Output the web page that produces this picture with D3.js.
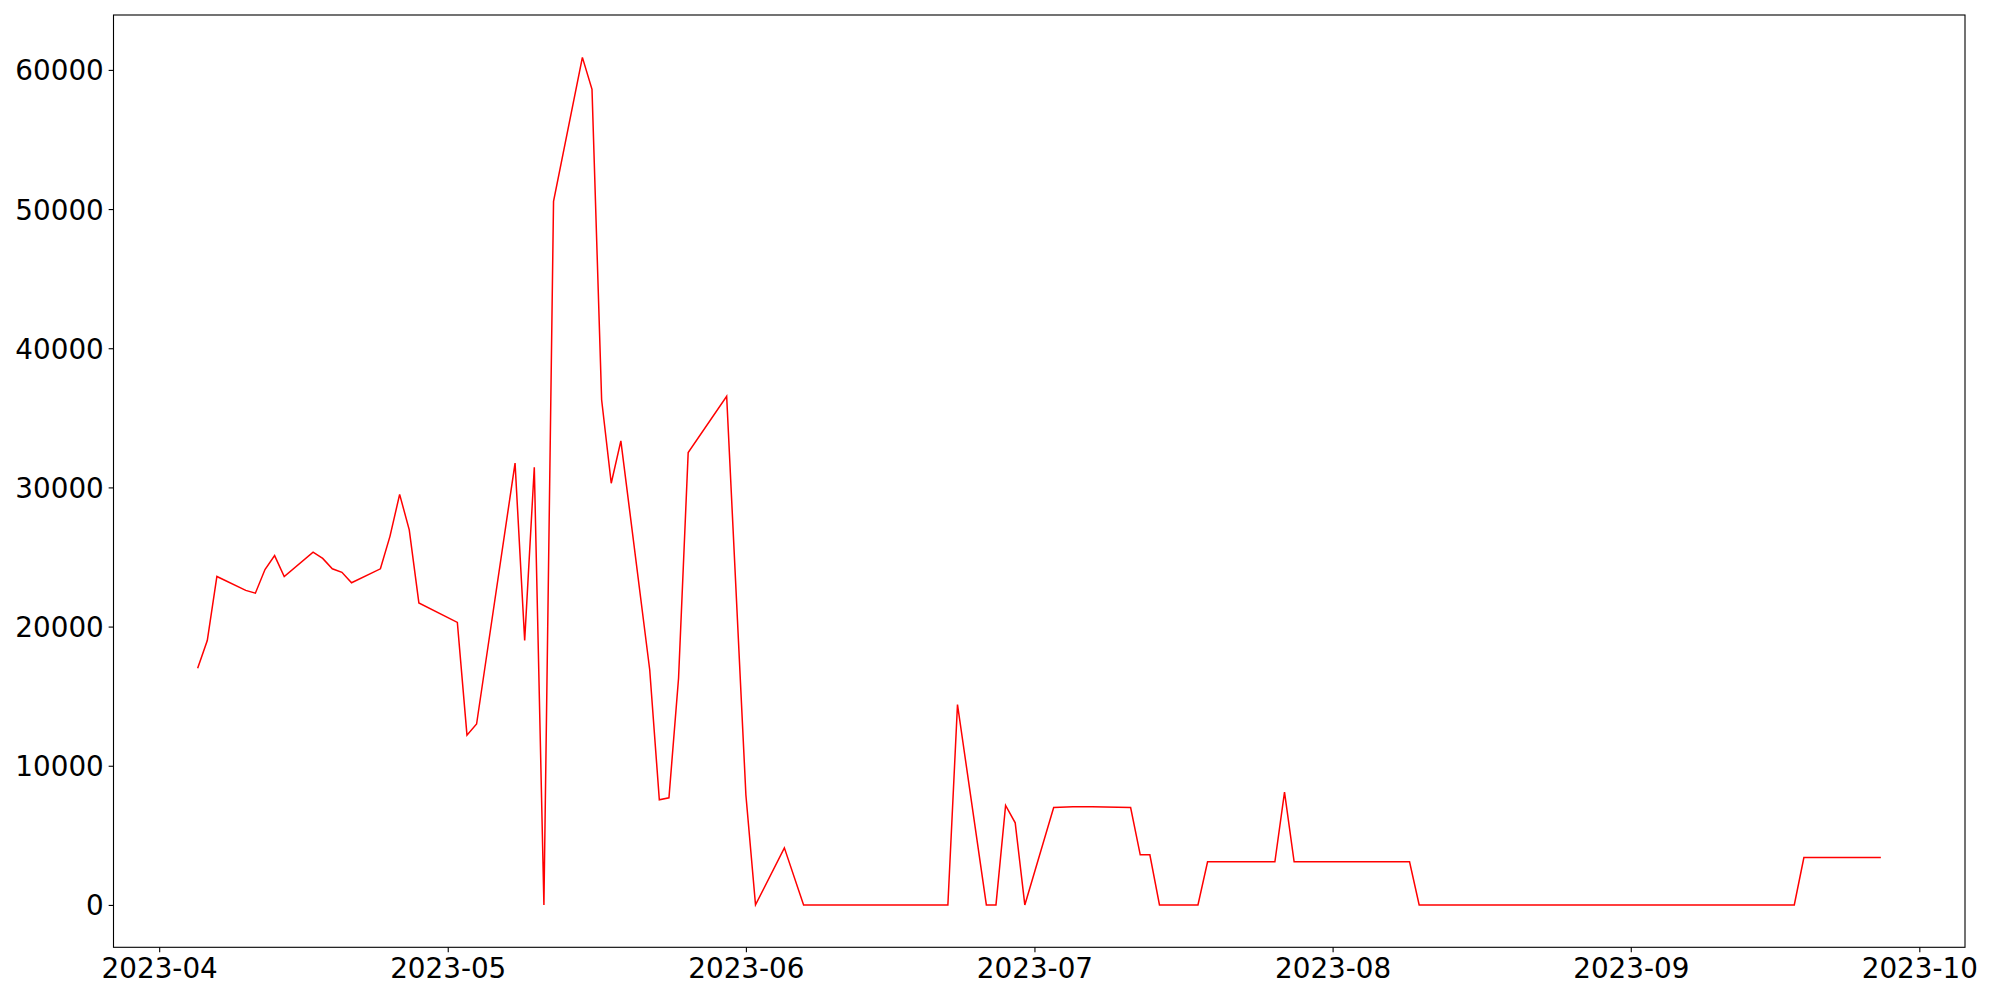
<!DOCTYPE html>
<html>
<head>
<meta charset="utf-8">
<script src="https://d3js.org/d3.v7.min.js"></script>
<style>
    body { margin: 0; background: #fff; }
    svg text { font-family: "DejaVu Sans", sans-serif; }
</style>
</head>
<body>
<div id="chart"></div>
<script>
    // daily readings
    var dates = [
        "2023-04-05", "2023-04-06", "2023-04-07", "2023-04-10", "2023-04-11",
        "2023-04-12", "2023-04-13", "2023-04-14", "2023-04-17", "2023-04-18",
        "2023-04-19", "2023-04-20", "2023-04-21", "2023-04-24", "2023-04-25",
        "2023-04-26", "2023-04-27", "2023-04-28", "2023-05-02", "2023-05-03",
        "2023-05-04", "2023-05-08", "2023-05-09", "2023-05-10", "2023-05-11",
        "2023-05-12", "2023-05-15", "2023-05-16", "2023-05-17", "2023-05-18",
        "2023-05-19", "2023-05-22", "2023-05-23", "2023-05-24", "2023-05-25",
        "2023-05-26", "2023-05-30", "2023-06-01", "2023-06-02", "2023-06-05",
        "2023-06-07", "2023-06-22", "2023-06-23", "2023-06-26", "2023-06-27",
        "2023-06-28", "2023-06-29", "2023-06-30", "2023-07-03", "2023-07-05",
        "2023-07-07", "2023-07-11", "2023-07-12", "2023-07-13", "2023-07-14",
        "2023-07-18", "2023-07-19", "2023-07-26", "2023-07-27", "2023-07-28",
        "2023-08-09", "2023-08-10", "2023-09-18", "2023-09-19", "2023-09-27"
    ];
    var values = [
        17000, 19000, 23600, 22600, 22400,
        24100, 25100, 23600, 25350, 24900,
        24150, 23900, 23150, 24150, 26500,
        29500, 26950, 21700, 20300, 12200,
        13000, 31750, 19000, 31450, 0,
        50550, 60900, 58600, 36300, 30300,
        33350, 16900, 7550, 7700, 16300,
        32500, 36550, 7900, 0, 4100,
        0, 0, 14400, 0, 0,
        7150, 5900, 0, 7000, 7050,
        7060, 7000, 3600, 3600, 0,
        0, 3100, 3100, 8100, 3100,
        3100, 0, 0, 3400, 3400
    ];
    var yTicks = [0, 10000, 20000, 30000, 40000, 50000, 60000];

    var W = 2000, H = 1000;
    var margin = { top: 15, right: 35, bottom: 52.7, left: 113.5 },
        width = W - margin.left - margin.right,
        height = H - margin.top - margin.bottom;

    var parse = d3.utcParse("%Y-%m-%d");
    var data = dates.map(function(d, i) {
        return { date: parse(d), value: values[i] };
    });

    var svg = d3.select("#chart").append("svg")
        .attr("width", W)
        .attr("height", H);

    var g = svg.append("g")
        .attr("transform", "translate(" + margin.left + "," + margin.top + ")");

    // 5% padding on both axes, like the original
    var xExt = d3.extent(data, function(d) { return d.date; });
    var xPad = (xExt[1] - xExt[0]) * 0.05;
    var yExt = d3.extent(data, function(d) { return d.value; });
    var yPad = (yExt[1] - yExt[0]) * 0.05;

    var x = d3.scaleUtc()
        .domain([new Date(+xExt[0] - xPad), new Date(+xExt[1] + xPad)])
        .range([0, width]);
    var y = d3.scaleLinear()
        .domain([yExt[0] - yPad, yExt[1] + yPad])
        .range([height, 0]);

    var tickLen = 4.86, pad = 4.86, fs = "27.8px";

    var xAxis = g.append("g")
        .attr("transform", "translate(0," + height + ")")
        .call(d3.axisBottom(x)
            .ticks(d3.utcMonth.every(1))
            .tickFormat(d3.utcFormat("%Y-%m"))
            .tickSize(tickLen)
            .tickPadding(pad)
            .tickSizeOuter(0));
    xAxis.select(".domain").remove();
    xAxis.selectAll("line").attr("stroke", "#000").attr("stroke-width", 1.1);
    xAxis.selectAll("text")
        .attr("fill", "#000")
        .style("font-size", fs)
        .attr("dy", "0.76em");

    var yAxis = g.append("g")
        .call(d3.axisLeft(y)
            .tickValues(yTicks)
            .tickFormat(d3.format("d"))
            .tickSize(tickLen)
            .tickPadding(pad)
            .tickSizeOuter(0));
    yAxis.select(".domain").remove();
    yAxis.selectAll("line").attr("stroke", "#000").attr("stroke-width", 1.1);
    yAxis.selectAll("text")
        .attr("fill", "#000")
        .style("font-size", fs)
        .attr("dy", "0.36em");

    var line = d3.line()
        .x(function(d) { return x(d.date); })
        .y(function(d) { return y(d.value); });

    g.append("path")
        .datum(data)
        .attr("fill", "none")
        .attr("stroke", "red")
        .attr("stroke-width", 1.5)
        .attr("stroke-linejoin", "miter")
        .attr("d", line);

    // frame
    g.append("rect")
        .attr("width", width)
        .attr("height", height)
        .attr("fill", "none")
        .attr("stroke", "#000")
        .attr("stroke-width", 1.1);
</script>
</body>
</html>
